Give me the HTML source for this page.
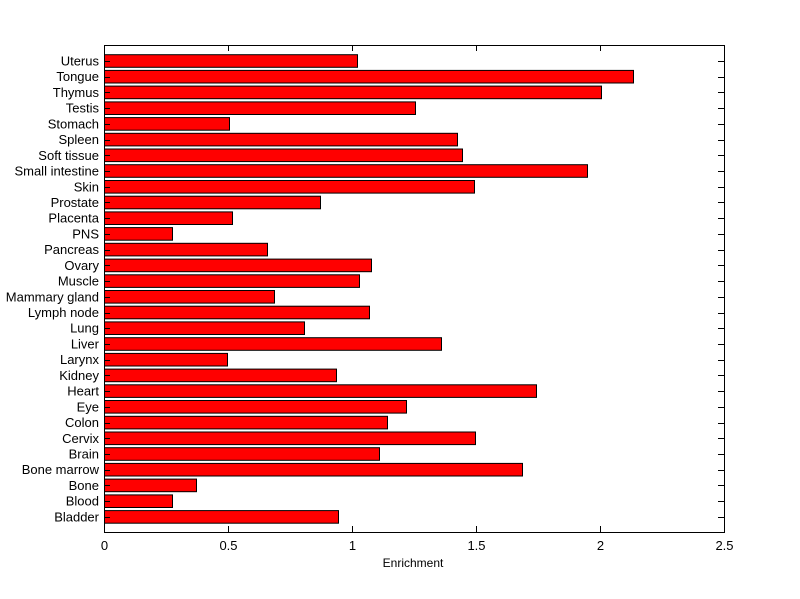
<!DOCTYPE html>
<html><head><meta charset="utf-8"><style>body{margin:0;background:#fff}svg{display:block}text{font-family:"Liberation Sans",Arial,sans-serif;font-size:13px;fill:#000}</style></head>
<body>
<svg width="800" height="599" xmlns="http://www.w3.org/2000/svg">
<rect width="800" height="599" fill="#fff"/>
<g id="bars"></g>
<rect x="104.5" y="45.5" width="620" height="487" fill="none" stroke="#000" stroke-width="1"/>
<g id="ticks" stroke="#000" stroke-width="1"></g>
<g id="labels"></g>
<text x="413" y="567" text-anchor="middle" style="font-size:12px">Enrichment</text>
<script>
var names=["Uterus","Tongue","Thymus","Testis","Stomach","Spleen","Soft tissue","Small intestine","Skin","Prostate","Placenta","PNS","Pancreas","Ovary","Muscle","Mammary gland","Lymph node","Lung","Liver","Larynx","Kidney","Heart","Eye","Colon","Cervix","Brain","Bone marrow","Bone","Blood","Bladder"];
var ends=[357,633,601,415,229,457,462,587,474,320,232,172,267,371,359,274,369,304,441,227,336,536,406,387,475,379,522,196,172,338];
var ns="http://www.w3.org/2000/svg";
var b=document.getElementById("bars"),t=document.getElementById("ticks"),l=document.getElementById("labels");
function el(n,a,p){var e=document.createElementNS(ns,n);for(var k in a)e.setAttribute(k,a[k]);p.appendChild(e);return e;}
for(var i=0;i<30;i++){var cy=61+i*15.72;
el("rect",{x:104.5,y:(cy-6.3).toFixed(1),width:ends[i]-104,height:12.6,fill:"#ff0000",stroke:"#000","stroke-width":1},b);
var yy=Math.round(cy)+0.5;
el("line",{x1:104,y1:yy,x2:110,y2:yy},t);el("line",{x1:718,y1:yy,x2:724,y2:yy},t);
var tx=el("text",{x:99,y:cy+4.5,"text-anchor":"end"},l);tx.textContent=names[i];}
var xl=["0","0.5","1","1.5","2","2.5"];
for(var j=0;j<6;j++){var x=104.5+j*124;
el("line",{x1:x,y1:532,x2:x,y2:526},t);el("line",{x1:x,y1:45,x2:x,y2:51},t);
var tx=el("text",{x:x,y:550,"text-anchor":"middle"},l);tx.textContent=xl[j];}
</script>
</svg>
</body></html>
